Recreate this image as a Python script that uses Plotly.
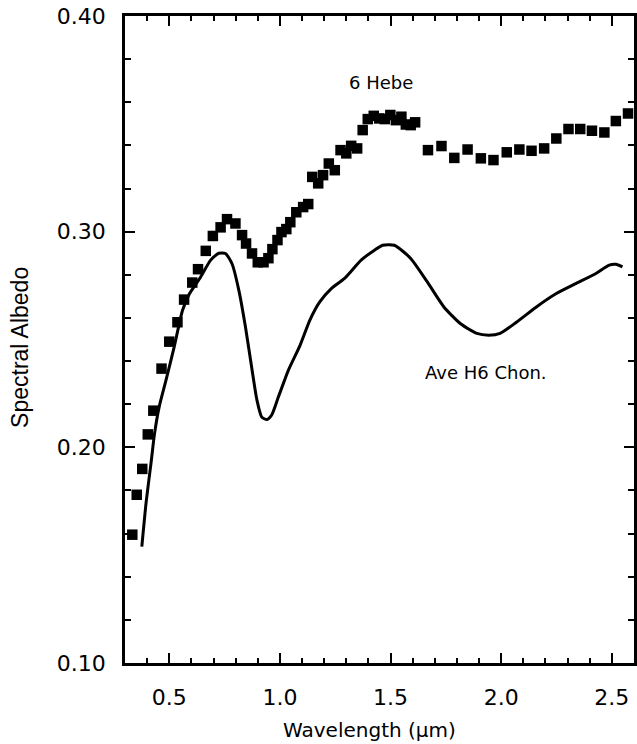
import plotly.graph_objects as go

# Asteroid 6 Hebe reflectance (square markers)
hebe_wavelength = [
    0.333, 0.353, 0.378, 0.403, 0.428, 0.465, 0.500, 0.537, 0.567, 0.604,
    0.630, 0.665, 0.697, 0.732, 0.761, 0.799, 0.829, 0.847, 0.874, 0.900,
    0.926, 0.948, 0.966, 0.989, 1.007, 1.029, 1.047, 1.074, 1.105, 1.128,
    1.146, 1.173, 1.195, 1.221, 1.248, 1.274, 1.300, 1.322, 1.349, 1.374,
    1.397, 1.424, 1.449, 1.474, 1.499, 1.524, 1.549, 1.569, 1.591, 1.611,
    1.669, 1.730, 1.788, 1.848, 1.908, 1.965, 2.025, 2.082, 2.137, 2.194,
    2.249, 2.304, 2.357, 2.410, 2.466, 2.518, 2.573,
]
hebe_albedo = [
    0.1595, 0.178, 0.190, 0.206, 0.217, 0.2365, 0.249, 0.258, 0.2685, 0.2764,
    0.2826, 0.2911, 0.298, 0.302, 0.3058, 0.3038, 0.2984, 0.2945, 0.2899, 0.2858,
    0.2858, 0.2877, 0.2919, 0.2961, 0.2998, 0.3012, 0.3044, 0.3090, 0.3114, 0.3128,
    0.3254, 0.3224, 0.3262, 0.3316, 0.3285, 0.3378, 0.3363, 0.3398, 0.3386, 0.3471,
    0.3522, 0.3537, 0.3525, 0.3522, 0.3541, 0.3517, 0.3533, 0.3497, 0.3494, 0.3507,
    0.3378, 0.3397, 0.3342, 0.3381, 0.3340, 0.3332, 0.3368, 0.3381, 0.3375, 0.3386,
    0.3432, 0.3476, 0.3476, 0.3468, 0.3460, 0.3513, 0.3548,
]

# Average H6 chondrite spectrum (solid curve)
chon_wavelength = [
    0.376, 0.396, 0.418, 0.433, 0.455, 0.485, 0.522, 0.560, 0.590, 0.642,
    0.687, 0.724, 0.754, 0.784, 0.814, 0.844, 0.874, 0.896, 0.918, 0.941,
    0.963, 0.993, 1.038, 1.091, 1.135, 1.180, 1.232, 1.292, 1.367, 1.427,
    1.464, 1.517, 1.591, 1.666, 1.741, 1.815, 1.890, 1.943, 1.995, 2.070,
    2.159, 2.249, 2.339, 2.428, 2.488, 2.518, 2.548,
]
chon_albedo = [
    0.154, 0.175, 0.193, 0.206, 0.219, 0.231, 0.2465, 0.2636, 0.271, 0.279,
    0.2868, 0.290, 0.2899, 0.285, 0.273, 0.256, 0.236, 0.222, 0.214, 0.2129,
    0.215, 0.2233, 0.2357, 0.2473, 0.2589, 0.2674, 0.2736, 0.2783, 0.2868, 0.2914,
    0.2937, 0.2937, 0.2876, 0.2767, 0.2651, 0.2574, 0.2528, 0.252, 0.2528, 0.2581,
    0.2651, 0.2713, 0.276, 0.2806, 0.2845, 0.2849, 0.2837,
]

x_ticks = [0.5, 1.0, 1.5, 2.0, 2.5]
x_tick_labels = ["0.5", "1.0", "1.5", "2.0", "2.5"]
y_ticks = [0.10, 0.20, 0.30, 0.40]
y_tick_labels = ["0.10", "0.20", "0.30", "0.40"]

FONT = "DejaVu Sans, Verdana, sans-serif"

fig = go.Figure()
fig.add_trace(go.Scatter(
    x=chon_wavelength, y=chon_albedo, mode="lines",
    line=dict(color="black", width=3, shape="spline", smoothing=0.6),
    showlegend=False,
))
fig.add_trace(go.Scatter(
    x=hebe_wavelength, y=hebe_albedo, mode="markers",
    marker=dict(symbol="square", size=10.5, color="black"),
    showlegend=False,
))

axis_common = dict(
    showgrid=False, zeroline=False, showline=True, linecolor="black",
    linewidth=2.5, mirror="ticks", ticks="inside", ticklen=10,
    tickwidth=2, tickcolor="black",
    tickfont=dict(family=FONT, size=22, color="black"),
)

fig.update_xaxes(
    range=[0.3, 2.6], tickvals=x_ticks, ticktext=x_tick_labels,
    ticklabelstandoff=13,
    minor=dict(dtick=0.1, tick0=0.0, ticks="inside", ticklen=5,
               tickwidth=1.5, tickcolor="black"),
    **axis_common,
)
fig.update_yaxes(
    range=[0.10, 0.40], tickvals=y_ticks, ticktext=y_tick_labels,
    ticklabelstandoff=12,
    minor=dict(dtick=0.02, tick0=0.0, ticks="inside", ticklen=6,
               tickwidth=1.5, tickcolor="black"),
    **axis_common,
)

fig.add_annotation(x=1.455, y=0.369, text="6 Hebe", showarrow=False,
                   font=dict(family=FONT, size=18, color="black"))
fig.add_annotation(x=1.930, y=0.2348, text="Ave H6 Chon.", showarrow=False,
                   font=dict(family=FONT, size=18, color="black"))

fig.add_annotation(xref="paper", yref="paper", x=0.4795, y=-0.104,
                   text="Wavelength (μm)", showarrow=False,
                   xanchor="center", yanchor="middle",
                   font=dict(family=FONT, size=20, color="black"))
fig.add_annotation(xref="paper", yref="paper", x=-0.205, y=0.488,
                   text="Spectral Albedo", showarrow=False, textangle=-90,
                   xanchor="center", yanchor="middle",
                   font=dict(family="Liberation Sans Narrow, Liberation Sans, Arial, sans-serif",
                             size=23, color="black"))

fig.update_layout(
    width=637, height=744,
    margin=dict(l=125, r=0, t=16, b=81),
    plot_bgcolor="white", paper_bgcolor="white",
)

fig.write_html("out.html")
